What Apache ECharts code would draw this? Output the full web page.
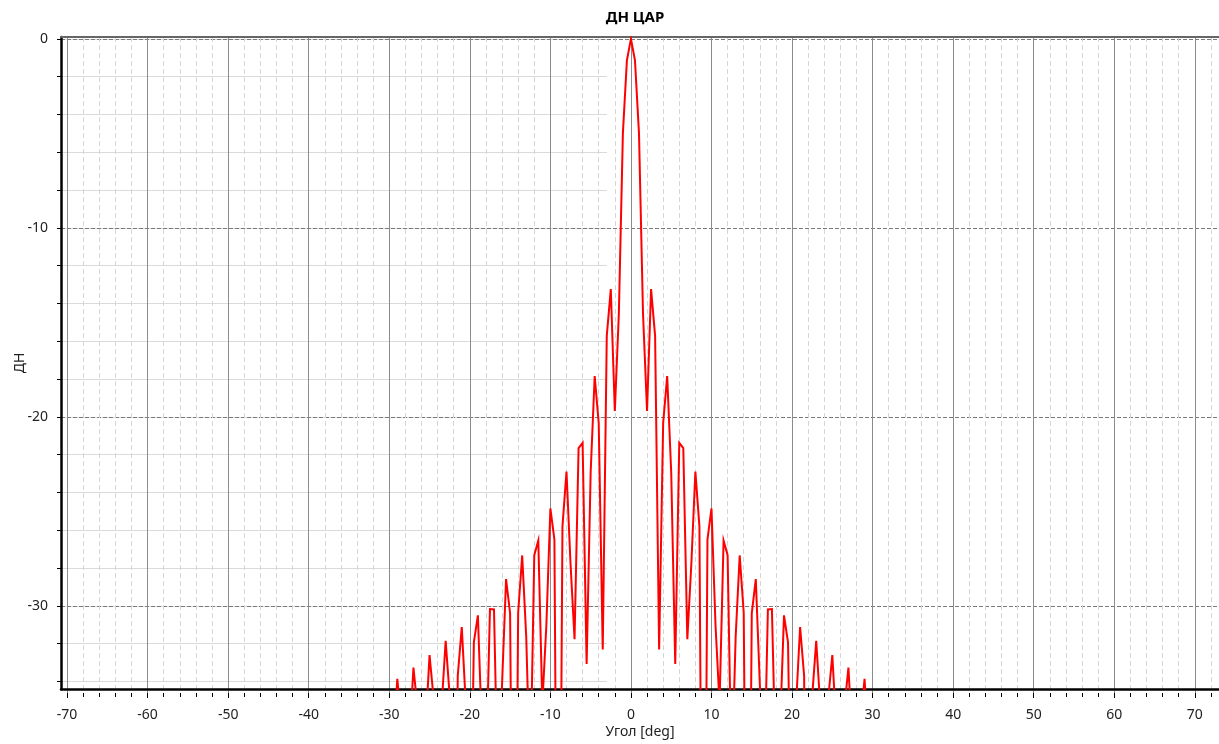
<!DOCTYPE html>
<html>
<head>
<meta charset="utf-8">
<script src="https://cdn.jsdelivr.net/npm/echarts@6/dist/echarts.min.js"></script>
<style>
html,body{margin:0;padding:0;background:#fff;}
#c{width:1219px;height:744px;}
</style>
</head>
<body>
<div id="c"></div>
<script>
// Angle samples [deg]
const angles = [
  -30,-29.5,-29,-28.5,-28,-27.5,-27,-26.5,-26,-25.5,-25,-24.5,-24,-23.5,-23,-22.5,-22,-21.5,-21,-20.5,
  -20,-19.5,-19,-18.5,-18,-17.5,-17,-16.5,-16,-15.5,-15,-14.5,-14,-13.5,-13,-12.5,-12,-11.5,-11,-10.5,
  -10,-9.5,-9,-8.5,-8,-7.5,-7,-6.5,-6,-5.5,-5,-4.5,-4,-3.5,-3,-2.5,-2,-1.5,-1,-0.5,
  0,
  0.5,1,1.5,2,2.5,3,3.5,4,4.5,5,5.5,6,6.5,7,7.5,8,8.5,9,9.5,10,
  10.5,11,11.5,12,12.5,13,13.5,14,14.5,15,15.5,16,16.5,17,17.5,18,18.5,19,19.5,20,
  20.5,21,21.5,22,22.5,23,23.5,24,24.5,25,25.5,26,26.5,27,27.5,28,28.5,29,29.5,30
];
// Pattern level [dB]
const dbValues = [
  -80,-37.44,-34.07,-36.43,-56.55,-37.38,-33.47,-35.58,-54.28,-36.74,-32.80,-35.09,-58.64,-35.53,-32.05,-34.99,-59.73,-33.92,-31.31,-35.43,
  -46.08,-32.13,-30.69,-36.84,-39.23,-30.36,-30.37,-40.42,-34.36,-28.76,-30.58,-56.43,-30.55,-27.50,-31.81,-39.55,-27.49,-26.71,-35.41,-31.22,
  -25.00,-26.65,-58.59,-25.95,-23.03,-27.93,-31.96,-21.79,-21.51,-33.28,-23.07,-17.95,-20.45,-32.51,-15.81,-13.32,-19.81,-14.63,-5.03,-1.14,
  0,
  -1.14,-5.03,-14.63,-19.81,-13.32,-15.81,-32.51,-20.45,-17.95,-23.07,-33.28,-21.51,-21.79,-31.96,-27.93,-23.03,-25.95,-58.59,-26.65,-25.00,
  -31.22,-35.41,-26.71,-27.49,-39.55,-31.81,-27.50,-30.55,-56.43,-30.58,-28.76,-34.36,-40.42,-30.37,-30.36,-39.23,-36.84,-30.69,-32.13,-46.08,
  -35.43,-31.31,-33.92,-59.73,-34.99,-32.05,-35.53,-58.64,-35.09,-32.80,-36.74,-54.28,-35.58,-33.47,-37.38,-56.55,-36.43,-34.07,-37.44,-80
];
const titleText = 'ДН ЦАР';
const xName = 'Угол [deg]';
const yName = 'ДН';

const FONT = '"Noto Sans", "Open Sans", sans-serif';
const hidden = {show: false};
const chart = echarts.init(document.getElementById('c'), null, {renderer: 'canvas'});

const option = {
  animation: false,
  backgroundColor: '#ffffff',
  title: {
    text: titleText, left: 630, top: 5, textAlign: 'center',
    textStyle: {fontFamily: FONT, fontSize: 15, fontWeight: 'bold', color: '#000'}
  },
  grid: [
    {left: 61, right: 0, top: 37, bottom: 51},            // data
    {left: 67.04, right: 8.04, top: 37, bottom: 51},      // minor vertical
    {left: 67.04, right: 24.16, top: 37, bottom: 51},     // major vertical
    {left: 61, right: 612, top: 38.9, bottom: 62.54},     // minor horizontal
    {left: 61, right: 0, top: 38.9, bottom: 138.14}       // major horizontal
  ],
  xAxis: [
    {gridIndex: 0, type: 'value', min: -70.75, max: 73, position: 'bottom',
     axisLine: {show: true, onZero: false, lineStyle: {color: '#000', width: 2.5}},
     axisTick: hidden, axisLabel: hidden, splitLine: hidden,
     name: xName, nameLocation: 'middle', nameGap: 36,
     nameTextStyle: {fontFamily: FONT, fontSize: 14, color: '#222'}},
    {gridIndex: 0, type: 'value', min: -70.75, max: 73, position: 'top',
     axisLine: {show: true, onZero: false, lineStyle: {color: '#666', width: 2}},
     axisTick: hidden, axisLabel: hidden, splitLine: hidden},
    {gridIndex: 1, type: 'value', min: -70, max: 72, interval: 2,
     axisLine: {show: false, onZero: false},
     axisTick: {show: true, length: 4, lineStyle: {color: '#000', width: 1}},
     axisLabel: hidden,
     splitLine: {show: true, lineStyle: {color: '#d6d6d6', width: 1, type: [5, 3]}}},
    {gridIndex: 2, type: 'value', min: -70, max: 70, interval: 10,
     axisLine: {show: false, onZero: false},
     axisTick: {show: true, length: 5, lineStyle: {color: '#000', width: 1}},
     axisLabel: {show: true, margin: 15, fontFamily: FONT, fontSize: 14, color: '#222'},
     splitLine: {show: true, lineStyle: {color: '#8c8c8c', width: 1}}},
    {gridIndex: 3, type: 'value', min: 0, max: 1, show: false},
    {gridIndex: 4, type: 'value', min: 0, max: 1, show: false}
  ],
  yAxis: [
    {gridIndex: 0, type: 'value', min: -34.61, max: 0.1,
     axisLine: {show: true, onZero: false, lineStyle: {color: '#000', width: 2.5}},
     axisTick: hidden, axisLabel: hidden, splitLine: hidden,
     name: yName, nameLocation: 'middle', nameGap: 34, nameRotate: 90,
     nameTextStyle: {fontFamily: FONT, fontSize: 14, color: '#222'}},
    {gridIndex: 1, type: 'value', min: 0, max: 1, show: false},
    {gridIndex: 2, type: 'value', min: 0, max: 1, show: false},
    {gridIndex: 3, type: 'value', min: -34, max: 0, interval: 2,
     axisLine: {show: false, onZero: false},
     axisTick: {show: true, length: 4, lineStyle: {color: '#000', width: 1}},
     axisLabel: hidden,
     splitLine: {show: true, lineStyle: {color: '#dadada', width: 1}}},
    {gridIndex: 4, type: 'value', min: -30, max: 0, interval: 10,
     axisLine: {show: false, onZero: false},
     axisTick: {show: true, length: 4, lineStyle: {color: '#000', width: 1}},
     axisLabel: {show: true, margin: 13, fontFamily: FONT, fontSize: 14, color: '#222'},
     splitLine: {show: true, lineStyle: {color: '#7a7a7a', width: 1, type: [4, 2]}}}
  ],
  series: [{
    type: 'line', xAxisIndex: 0, yAxisIndex: 0,
    data: angles.map((a, i) => [a, dbValues[i]]),
    symbol: 'none', showSymbol: false, clip: true, z: 10,
    lineStyle: {color: '#ff0000', width: 2, join: 'miter'}
  }]
};
chart.setOption(option);
</script>
</body>
</html>
